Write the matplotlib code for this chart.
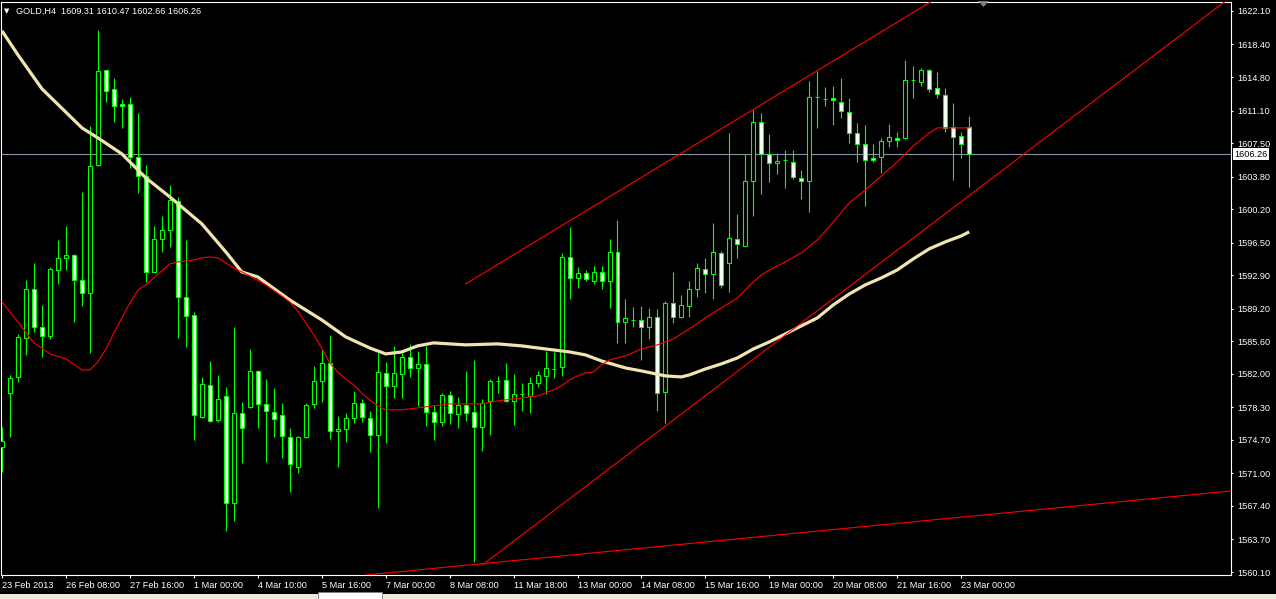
import matplotlib
matplotlib.use("Agg")
import matplotlib.pyplot as plt
from matplotlib.patches import Rectangle, Polygon
from matplotlib.transforms import blended_transform_factory

# GOLD H4 candles (price units)
opens = [1573.92, 1579.88, 1581.65, 1585.96, 1591.39, 1587.18, 1586.18, 1593.48, 1594.81, 1595.14,
         1592.38, 1590.93, 1605.09, 1615.58, 1613.48, 1611.83, 1611.83, 1605.97, 1603.87, 1593.26,
         1596.91, 1597.90, 1601.11, 1590.49, 1588.50, 1577.23, 1580.82, 1576.90, 1579.55, 1567.73,
         1577.67, 1578.34, 1582.32, 1578.67, 1577.78, 1577.45, 1575.02, 1571.71, 1575.02, 1578.67,
         1581.21, 1583.20, 1575.68, 1575.90, 1577.12, 1578.78, 1577.12, 1575.24, 1582.10, 1580.71,
         1581.99, 1583.86, 1582.65, 1583.09, 1577.78, 1576.68, 1579.66, 1577.56, 1578.56, 1577.78,
         1576.13, 1579.00, 1581.21, 1581.32, 1579.00, 1579.77, 1579.55, 1580.99, 1581.76, 1582.54,
         1582.76, 1594.92, 1592.60, 1593.15, 1592.27, 1593.26, 1592.27, 1595.47, 1587.73, 1587.95,
         1587.95, 1587.18, 1588.28, 1579.99, 1589.83, 1588.28, 1589.50, 1591.39, 1593.59, 1593.04,
         1595.36, 1594.26, 1596.91, 1596.14, 1603.32, 1609.84, 1606.30, 1605.31, 1605.62, 1605.42,
         1603.65, 1603.32, 1612.60, 1612.38, 1612.49, 1612.05, 1610.94, 1608.62, 1607.41, 1605.86,
         1605.97, 1607.69, 1608.07, 1608.07, 1614.48, 1614.26, 1615.58, 1613.59, 1612.82, 1609.29,
         1608.29, 1609.31]
highs = [1576.13, 1581.87, 1586.40, 1592.38, 1594.26, 1589.61, 1593.81, 1596.80, 1598.35, 1595.20,
         1602.10, 1609.40, 1620.00, 1615.60, 1614.70, 1612.38, 1612.60, 1610.83, 1605.09, 1598.35,
         1599.45, 1602.88, 1601.55, 1596.80, 1588.83, 1581.65, 1583.42, 1581.87, 1580.49, 1587.18,
         1578.89, 1584.75, 1582.43, 1581.43, 1580.38, 1578.78, 1576.02, 1575.13, 1578.78, 1582.87,
         1584.64, 1586.29, 1577.34, 1577.67, 1580.11, 1579.22, 1577.89, 1584.64, 1583.31, 1585.08,
         1584.30, 1585.30, 1584.53, 1585.08, 1578.56, 1579.88, 1580.11, 1579.44, 1582.32, 1583.53,
         1579.22, 1581.43, 1581.76, 1583.20, 1581.99, 1580.99, 1581.65, 1582.32, 1584.53, 1584.41,
         1595.36, 1598.24, 1593.81, 1593.48, 1593.92, 1593.92, 1596.91, 1599.02, 1590.27, 1589.39,
         1589.50, 1589.28, 1589.17, 1590.05, 1593.26, 1590.71, 1592.27, 1594.26, 1594.81, 1598.68,
         1595.58, 1608.62, 1599.67, 1606.30, 1611.17, 1610.83, 1608.51, 1606.41, 1606.74, 1606.74,
         1604.54, 1614.37, 1615.47, 1613.70, 1613.81, 1614.70, 1612.49, 1609.73, 1609.51, 1607.41,
         1608.07, 1609.62, 1608.73, 1616.69, 1616.03, 1615.80, 1615.69, 1615.36, 1613.59, 1611.94,
         1608.73, 1610.47]
lows = [1571.15, 1575.02, 1581.10, 1584.08, 1586.62, 1583.86, 1585.84, 1591.94, 1593.48, 1587.73,
        1589.50, 1584.30, 1605.00, 1612.05, 1609.84, 1609.17, 1604.75, 1601.99, 1592.16, 1593.20,
        1595.47, 1596.03, 1585.96, 1584.97, 1574.69, 1577.12, 1576.70, 1576.68, 1564.62, 1565.74,
        1572.15, 1578.23, 1576.02, 1572.26, 1575.02, 1572.70, 1568.97, 1571.04, 1574.91, 1578.23,
        1578.89, 1574.80, 1571.71, 1574.47, 1576.57, 1576.68, 1573.36, 1567.18, 1574.36, 1579.33,
        1579.33, 1581.65, 1578.45, 1576.24, 1574.69, 1576.24, 1576.46, 1576.02, 1576.79, 1561.21,
        1573.47, 1575.24, 1579.88, 1578.89, 1576.35, 1577.89, 1577.67, 1580.60, 1579.77, 1581.54,
        1581.76, 1590.27, 1591.50, 1592.27, 1591.94, 1591.39, 1589.28, 1585.41, 1585.41, 1587.18,
        1583.53, 1585.85, 1577.89, 1576.57, 1587.62, 1588.20, 1588.28, 1590.49, 1590.93, 1590.27,
        1591.50, 1591.05, 1594.81, 1596.10, 1599.45, 1601.88, 1603.21, 1604.09, 1602.55, 1603.54,
        1601.33, 1599.89, 1609.17, 1611.61, 1609.45, 1610.23, 1607.52, 1605.42, 1600.56, 1605.42,
        1604.20, 1607.02, 1607.02, 1608.00, 1612.49, 1613.81, 1613.15, 1612.49, 1608.73, 1603.43,
        1605.86, 1602.66]
closes = [1574.58, 1581.54, 1586.07, 1591.39, 1587.18, 1586.18, 1593.59, 1594.81, 1595.14, 1592.38,
          1590.93, 1604.98, 1615.47, 1613.26, 1611.61, 1611.61, 1605.97, 1603.87, 1593.26, 1596.91,
          1597.90, 1601.22, 1590.49, 1588.39, 1577.45, 1580.93, 1576.79, 1579.22, 1567.73, 1577.67,
          1576.02, 1582.32, 1578.67, 1577.89, 1577.01, 1575.13, 1572.04, 1575.02, 1578.56, 1581.21,
          1583.20, 1575.68, 1575.90, 1577.12, 1578.78, 1577.23, 1575.24, 1582.21, 1580.71, 1582.10,
          1583.86, 1582.65, 1583.09, 1577.78, 1576.68, 1579.66, 1577.67, 1578.56, 1577.67, 1576.13,
          1578.78, 1581.21, 1581.25, 1579.00, 1579.77, 1579.80, 1580.99, 1581.87, 1582.65, 1582.58,
          1594.92, 1592.60, 1593.15, 1592.49, 1593.26, 1592.27, 1595.47, 1587.73, 1588.17, 1587.98,
          1587.18, 1588.28, 1579.88, 1589.83, 1588.28, 1589.61, 1591.39, 1593.70, 1593.04, 1595.47,
          1591.83, 1597.02, 1596.36, 1603.32, 1609.84, 1606.30, 1605.31, 1605.53, 1605.65, 1603.76,
          1603.32, 1612.60, 1612.63, 1612.41, 1612.27, 1611.06, 1608.62, 1607.41, 1605.64, 1605.64,
          1607.69, 1608.13, 1607.85, 1614.48, 1614.50, 1615.58, 1613.48, 1612.93, 1609.17, 1608.18,
          1607.41, 1606.26]

# slow moving average (thick cream line)
slow_ma_bar = [0, 2, 5, 7, 10, 12, 15, 18, 21, 25, 28, 30, 32, 36, 40, 43, 46, 48, 50, 52, 54, 58,
               62, 65, 68, 71, 73, 75, 78, 80, 83, 85, 86, 88, 90, 92, 94, 96, 98, 100, 102,
               104, 106, 108, 110, 112, 114, 116, 118, 120, 121]
slow_ma = [1619.90, 1617.24, 1613.49, 1611.77, 1609.18, 1608.07, 1606.30, 1603.65, 1601.55, 1598.57,
           1595.47, 1593.26, 1592.71, 1590.16, 1587.96, 1586.08, 1584.86, 1584.20, 1584.42, 1585.09,
           1585.42, 1585.20, 1585.31, 1585.09, 1584.75, 1584.42, 1584.09, 1583.42, 1582.65, 1582.32,
           1581.77, 1581.66, 1581.88, 1582.54, 1583.10, 1583.76, 1584.75, 1585.53, 1586.41, 1587.30,
           1588.18, 1589.62, 1590.83, 1591.83, 1592.60, 1593.48, 1594.70, 1595.81, 1596.58, 1597.24,
           1597.69]

# fast moving average (thin red line)
fast_ma_bar = [0, 2, 4, 6, 8, 10, 11, 12, 13, 14, 15, 16, 17, 18, 19, 21, 22, 23, 24, 25, 26, 27,
               28, 29, 30, 31, 33, 35, 36, 37, 38, 39, 40, 41, 42, 43, 44, 45, 46, 47, 48, 50, 52,
               56, 60, 62, 65, 67, 68, 69, 70, 71, 72, 73, 74, 75, 76, 78, 80, 82, 84, 86, 88, 90,
               92, 94, 95, 96, 98, 100, 102, 104, 106, 108, 110, 112, 114, 116, 117, 121]
fast_ma = [1589.95, 1587.74, 1585.42, 1584.20, 1583.65, 1582.43, 1582.43, 1583.32, 1584.75, 1586.52,
           1588.18, 1589.84, 1591.27, 1591.83, 1592.60, 1594.15, 1594.37, 1594.48, 1594.59, 1594.81,
           1594.92, 1594.81, 1594.26, 1593.70, 1593.26, 1592.82, 1591.83, 1590.61, 1589.95, 1588.95,
           1587.63, 1586.30, 1584.86, 1583.20, 1582.21, 1581.44, 1580.78, 1579.89, 1579.12, 1578.46,
           1578.02, 1578.02, 1578.24, 1578.68, 1578.68, 1579.01, 1579.34, 1579.56, 1579.89, 1580.23,
           1580.67, 1581.33, 1581.77, 1582.10, 1582.21, 1582.99, 1583.54, 1583.98, 1584.76, 1585.20,
           1585.86, 1586.97, 1588.18, 1589.29, 1590.39, 1592.16, 1592.93, 1593.48, 1594.37, 1595.36,
           1596.80, 1598.79, 1600.89, 1602.32, 1603.87, 1605.42, 1607.19, 1608.62, 1609.18, 1609.18]

# trend lines drawn on the chart: (bar, price) end points
upper_channel = ([58, 120], [1591.94, 1625.15])
lower_channel = ([60.1, 153.75], [1560.89, 1623.65])
bottom_line = ([45.6, 153.75], [1559.78, 1569.06])
last_price = 1606.26

x_labels = ["23 Feb 2013", "26 Feb 08:00", "27 Feb 16:00", "1 Mar 00:00", "4 Mar 10:00",
            "5 Mar 16:00", "7 Mar 00:00", "8 Mar 08:00", "11 Mar 18:00", "13 Mar 00:00",
            "14 Mar 08:00", "15 Mar 16:00", "19 Mar 00:00", "20 Mar 08:00", "21 Mar 16:00",
            "23 Mar 00:00"]
y_ticks = [1622.10, 1618.40, 1614.80, 1611.10, 1607.50, 1603.80, 1600.20, 1596.50, 1592.90,
           1589.20, 1585.60, 1582.00, 1578.30, 1574.70, 1571.00, 1567.40, 1563.70, 1560.10]

FONT = "Liberation Sans"
FS = 6.6
W, H = 1276, 599

fig = plt.figure(figsize=(W / 100, H / 100), dpi=100, facecolor="black")
ax = fig.add_axes([1 / W, 24 / H, 1230 / W, 573 / H])
ax.set_facecolor("black")
ax.set_xlim(-0.125, 153.75)
ax.set_ylim(1559.77, 1623.09)

# candles
lime = "#00FF00"
ax.vlines(range(len(opens)), lows, highs, color=lime, lw=0.8, zorder=2)
for i, (o, c) in enumerate(zip(opens, closes)):
    fc = "black" if c >= o else "white"
    ax.add_patch(Rectangle((i - 0.25, min(o, c)), 0.5, max(abs(c - o), 0.02),
                           facecolor=fc, edgecolor=lime, lw=0.8, zorder=3))

# indicators and objects
ax.plot(slow_ma_bar, slow_ma, color="#F0E4B0", lw=2.3, zorder=4, solid_capstyle="butt")
ax.plot(fast_ma_bar, fast_ma, color="#FF0000", lw=0.8, zorder=4)
for xs, ys in (upper_channel, lower_channel, bottom_line):
    ax.plot(xs, ys, color="#FF0000", lw=0.8, zorder=4)
ax.axhline(last_price, color="#8391A6", lw=0.8, zorder=1)

# axes styling
for s in ax.spines.values():
    s.set_color("white")
    s.set_linewidth(0.8)
ax.yaxis.tick_right()
ax.set_yticks(y_ticks)
ax.set_yticklabels(["%.2f" % v for v in y_ticks], fontsize=FS, family=FONT, color="white")
ax.set_xticks(range(0, 8 * len(x_labels), 8))
ax.set_xticklabels(x_labels, fontsize=FS, family=FONT, color="white", ha="left")
ax.tick_params(axis="y", colors="white", length=1.5, width=0.8, pad=3)
ax.tick_params(axis="x", colors="white", length=2.2, width=0.8, pad=2)

# last price box on the scale
tr = blended_transform_factory(ax.transAxes, ax.transData)
ax.text(1.0 + 3.5 / 1230, last_price, "%.2f" % last_price, transform=tr, ha="left", va="center",
        fontsize=FS, family=FONT, color="black", clip_on=False,
        bbox=dict(boxstyle="square,pad=0.18", fc="white", ec="none"))

# header text
fig.text(4 / W, 1 - 11 / H, "\u25BC", fontsize=5, color="white", va="center", family="DejaVu Sans")
fig.text(16 / W, 1 - 11 / H, "GOLD,H4  1609.31 1610.47 1602.66 1606.26", fontsize=FS,
         family=FONT, color="white", va="center")

# chart shift marker and bottom tab strip
fig.patches.append(Polygon([(978 / W, 1 - 1 / H), (989 / W, 1 - 1 / H), (983.5 / W, 1 - 7 / H)],
                           closed=True, transform=fig.transFigure, fc="#7F7F7F", ec="none"))
fig.patches.append(Rectangle((0, 0), 1, 5 / H, transform=fig.transFigure,
                             fc="#ECE9D8", ec="none"))
fig.patches.append(Rectangle((318 / W, 0), 64 / W, 7 / H, transform=fig.transFigure,
                             fc="white", ec="#808080", lw=0.6))

fig.savefig("out.png", dpi=100, facecolor="black")
